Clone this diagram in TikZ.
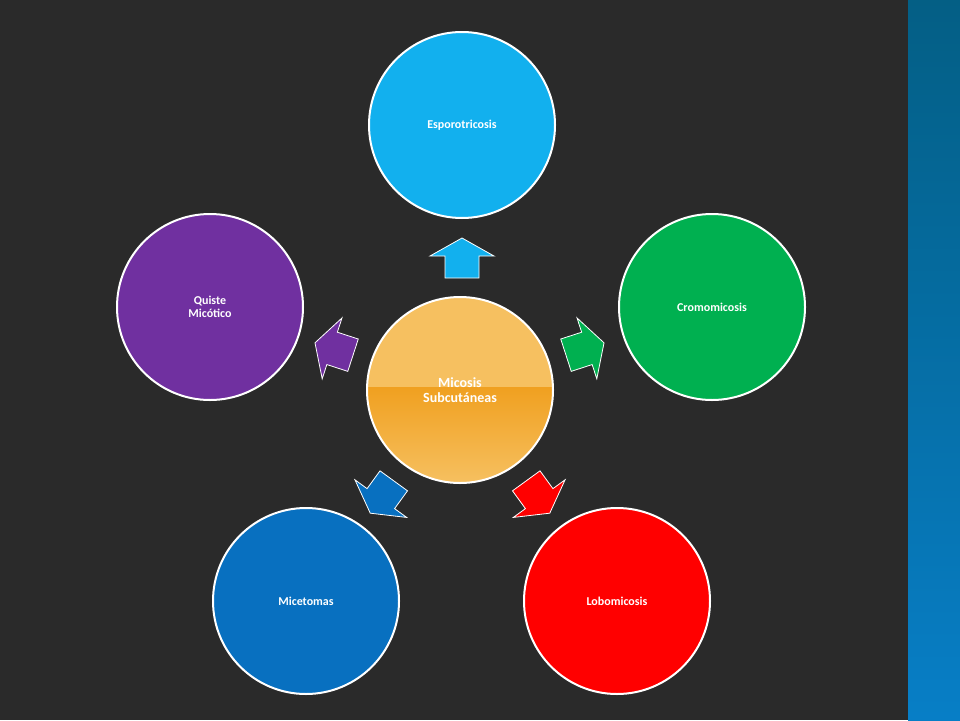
\documentclass[tikz,border=0pt]{standalone}
\usepackage{fontspec}
\setmainfont{Carlito}
\usetikzlibrary{shadings}
\definecolor{bg}{HTML}{2A2A2A}
\definecolor{cblue}{HTML}{12B0EE}
\definecolor{cgreen}{HTML}{00B050}
\definecolor{cred}{HTML}{FF0000}
\definecolor{cdblue}{HTML}{0870C0}
\definecolor{cpurple}{HTML}{7030A0}
\definecolor{corange}{HTML}{F0A020}
\definecolor{corangelt}{HTML}{F6C060}
\tikzset{
  circ/.style={circle,minimum size=186pt,inner sep=0pt,draw=white!75,line width=2pt,
    text=white,font=\bfseries\fontsize{12}{13}\selectfont,align=center,text width=120pt},
  blk/.style={line width=0.8pt,draw=white!40}
}
\newcommand{\blockarrow}[3]{%
  \begin{scope}[shift={#1},rotate=#2]
  \fill[#3,blk] (-17,20)--(17,20)--(17,-2)--(32,-2)--(0,-20)--(-32,-2)--(-17,-2)--cycle;
  \end{scope}}
\begin{document}
\begin{tikzpicture}[x=1pt,y=-1pt]
\fill[bg] (0,0) rectangle (960,720);
\shade[top color=cdblue!60!teal!80!black,bottom color=cdblue!90!cyan] (908,0) rectangle (960,720);
\node[circ,fill=cblue] (e) at (462,125) {\raisebox{0pt}{Esporotricosis}};
\node[circ,fill=cgreen] (c) at (712,307) {Cromomicosis};
\node[circ,fill=cred] (l) at (617,601) {Lobomicosis};
\node[circ,fill=cdblue] (m) at (306,601) {Micetomas};
\node[circ,fill=cpurple] (q) at (210,307) {Quiste\\Micótico};
\fill[corange] (460,390) circle (93);
\begin{scope}
\clip (460,390) circle (93);
\fill[corangelt] (367,297) rectangle (553,387);
\shade[top color=corange,bottom color=corangelt] (367,387) rectangle (553,483);
\end{scope}
\node[circ,fill=none,font=\bfseries\fontsize{14}{15}\selectfont] (ctr) at (460,390) {Micosis\\Subcutáneas};
\blockarrow{(462,258)}{0}{cblue}
\blockarrow{(585,349)}{-72}{cgreen}
\blockarrow{(538,497)}{-144}{cred}
\blockarrow{(382,497)}{144}{cdblue}
\blockarrow{(334,349)}{72}{cpurple}
\end{tikzpicture}
\end{document}
